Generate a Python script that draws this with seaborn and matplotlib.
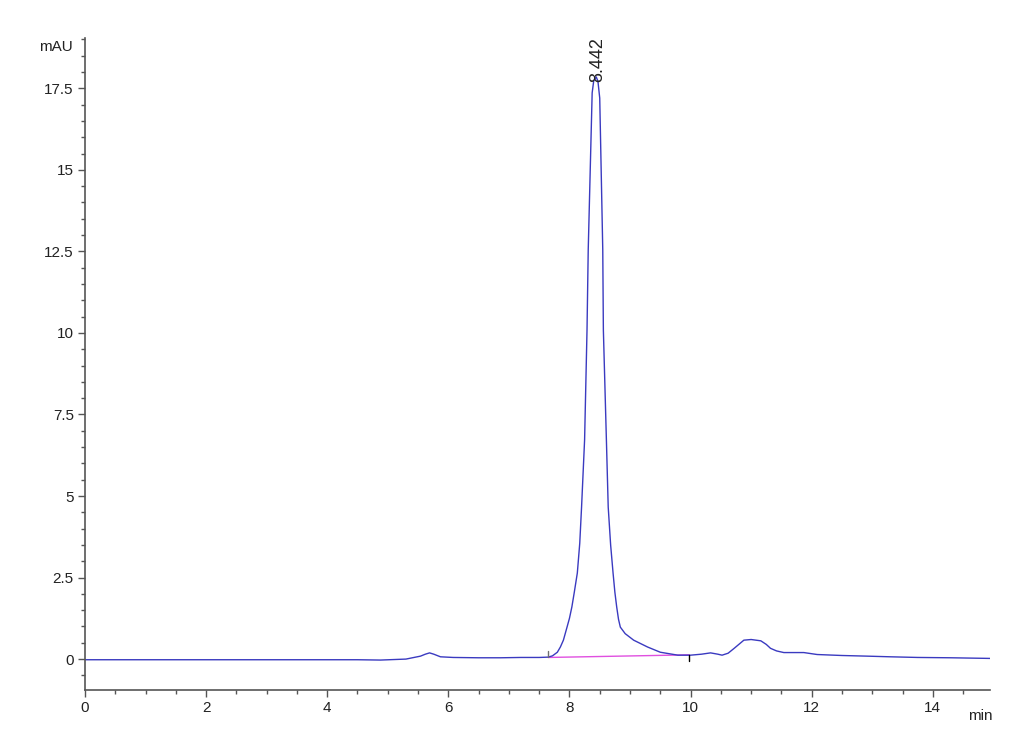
import matplotlib
matplotlib.use("Agg")
import matplotlib.pyplot as plt
from matplotlib.ticker import MultipleLocator
import numpy as np
import pandas as pd
import seaborn as sns

# chromatogram trace (min, mAU)
time_min = [0.0, 1.0, 2.0, 3.0, 4.0, 4.5, 4.88, 5.3, 5.54, 5.62, 5.69, 5.76, 5.87, 6.08, 6.5,
            6.86, 7.2, 7.5, 7.65, 7.72, 7.80, 7.85, 7.90, 7.96, 8.00, 8.04, 8.08, 8.13, 8.17,
            8.20, 8.25, 8.29, 8.31, 8.375, 8.40, 8.442, 8.47, 8.50, 8.55, 8.56, 8.61, 8.64,
            8.68, 8.72, 8.75, 8.78, 8.81, 8.84, 8.92, 9.06, 9.29, 9.50, 9.79, 10.0, 10.18,
            10.33, 10.45, 10.52, 10.62, 10.72, 10.88, 11.0, 11.16, 11.25, 11.32, 11.42,
            11.54, 11.7, 11.87, 12.09, 12.5, 12.92, 13.3, 13.75, 14.3, 14.96]
signal_mau = [-0.02, -0.02, -0.02, -0.02, -0.02, -0.02, -0.03, 0.0, 0.09, 0.15, 0.19, 0.15, 0.07,
              0.05, 0.04, 0.04, 0.05, 0.05, 0.06, 0.10, 0.21, 0.37, 0.58, 0.98, 1.25, 1.60,
              2.05, 2.64, 3.55, 4.66, 6.72, 10.09, 12.55, 17.36, 17.72, 17.85, 17.72, 17.2,
              12.55, 10.09, 6.72, 4.66, 3.50, 2.64, 2.05, 1.60, 1.22, 0.98, 0.78, 0.58, 0.37,
              0.21, 0.12, 0.12, 0.15, 0.19, 0.15, 0.12, 0.18, 0.33, 0.58, 0.60, 0.56, 0.45,
              0.33, 0.25, 0.20, 0.20, 0.20, 0.14, 0.11, 0.09, 0.07, 0.05, 0.04, 0.02]

# integration baseline of the main peak
base_time = [7.65, 9.98]
base_mau = [0.05, 0.13]
peak_rt = 8.442
peak_height = 17.85

df = pd.DataFrame({"time": time_min, "mAU": signal_mau})
df_base = pd.DataFrame({"time": base_time, "mAU": base_mau})

sns.set_style("ticks")
plt.rcParams['font.family'] = ['Liberation Sans', 'DejaVu Sans']

fig = plt.figure(figsize=(10.3, 7.55), dpi=100)
ax = fig.add_axes([0.0825, 0.086, 0.879, 0.864])

sns.lineplot(data=df_base, x="time", y="mAU", ax=ax, color="#e050e0", linewidth=1.0)
sns.lineplot(data=df, x="time", y="mAU", ax=ax, color="#3a3ac0", linewidth=1.0)

# integration event marks
ax.plot([base_time[0], base_time[0]], [base_mau[0], base_mau[0] + 0.2], color="#707070", lw=1)
ax.plot([base_time[1], base_time[1]], [base_mau[1] - 0.2, base_mau[1]], color="black", lw=1)

ax.text(peak_rt + 0.02, peak_height - 0.15, "%.3f" % peak_rt, rotation=90, ha="center", va="bottom",
        fontsize=13, color="#222222")

ax.set_xlim(0, 14.95)
ax.set_ylim(-0.95, 19.05)
ax.xaxis.set_major_locator(MultipleLocator(2))
ax.xaxis.set_minor_locator(MultipleLocator(0.5))
ax.yaxis.set_major_locator(MultipleLocator(2.5))
ax.yaxis.set_minor_locator(MultipleLocator(0.5))
ax.set_yticklabels([("%g" % v) for v in ax.get_yticks()])
ax.set_xlabel("")
ax.set_ylabel("")
for s in ["top", "right"]:
    ax.spines[s].set_visible(False)
for s in ["left", "bottom"]:
    ax.spines[s].set_color("#555555")
    ax.spines[s].set_linewidth(1.2)
ax.tick_params(which="major", length=5, width=1, color="#555555", labelsize=11,
               labelcolor="#222222", pad=3)
ax.tick_params(which="minor", length=3, width=1, color="#555555")
ax.set_ylim(-0.95, 19.05)

fig.text(73 / 1030, 1 - 47 / 755, "mAU", ha="right", va="center", fontsize=11, color="#222222")
fig.text(980 / 1030, 1 - 716 / 755, "min", ha="center", va="center", fontsize=11, color="#222222")

fig.savefig("out.png", dpi=100, facecolor="white")
